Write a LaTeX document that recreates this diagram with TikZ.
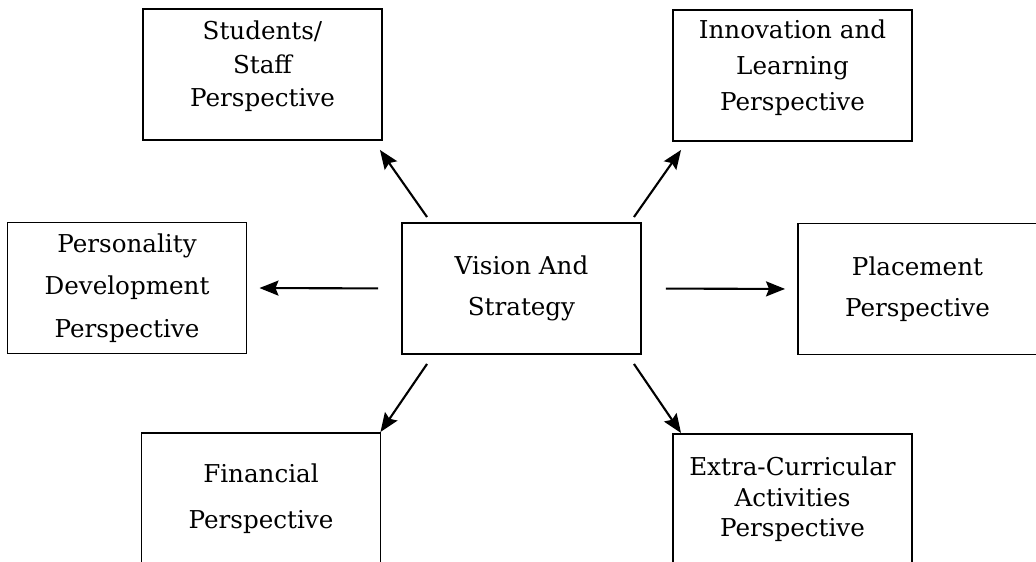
\documentclass[tikz,border=0pt]{standalone}
\usepackage{fontspec}
\setmainfont{DejaVu Serif}
\usepackage{tikz}
\usetikzlibrary{arrows.meta, calc}
\tikzset{
  persp/.style={draw, line width=1.1pt, minimum width=4.78cm, minimum height=2.62cm,
                align=center, inner sep=0pt, font=\fontsize{14}{19}\selectfont},
  link/.style={line width=1.2pt, -{Stealth[length=3.8mm, width=3mm, inset=0.6mm]}}
}

\begin{document}
\begin{tikzpicture}[
  % boxes of the top row: text sits a little higher
  toprow/.style = {persp, text depth=0.42cm},
]

\useasboundingbox (0,0) rectangle (20.72,-11.24);

% ──────────────────────────
%  centre
% ──────────
\node[persp] (vision) at (10.43,-5.77) {Vision And\\[0.15cm]Strategy};

% ──────────────────────────
%  the six perspectives
% ──────────
\node[toprow] (stud)  at (5.25,-1.49)  {Students/\\Staff\\Perspective};
\node[toprow] (innov) at (15.85,-1.51) {Innovation and\\[0.05cm]Learning\\[0.05cm]Perspective};
\node[persp]  (pers)  at (2.54,-5.76)  {Personality\\[0.18cm]Development\\[0.18cm]Perspective};
\node[persp]  (place) at (18.35,-5.78) {Placement\\[0.15cm]Perspective};
\node[persp]  (fin)   at (5.22,-9.97)  {Financial\\[0.26cm]Perspective};
\node[persp]  (extra) at (15.85,-9.99) {Extra-Curricular\\[-0.06cm]Activities\\[-0.06cm]Perspective};

% ──────────────────────────
%  arrows out of the centre
% ──────────
\draw[link] ($(vision.north west)+(0.52,0.10)$) -- ($(stud.south east)+(-0.06,-0.18)$);
\draw[link] ($(vision.north east)+(-0.16,0.10)$) -- ($(innov.south west)+(0.18,-0.16)$);
\draw[link, shorten <=0.46cm, shorten >=0.24cm] (vision.west) -- (pers.east);
\draw[link, shorten <=0.48cm, shorten >=0.24cm] (vision.east) -- (place.west);
\draw[link] ($(vision.south west)+(0.52,-0.18)$) -- ($(fin.north east)+(-0.02,0)$);
\draw[link] ($(vision.south east)+(-0.16,-0.18)$) -- ($(extra.north west)+(0.18,0)$);

\end{tikzpicture}
\end{document}
